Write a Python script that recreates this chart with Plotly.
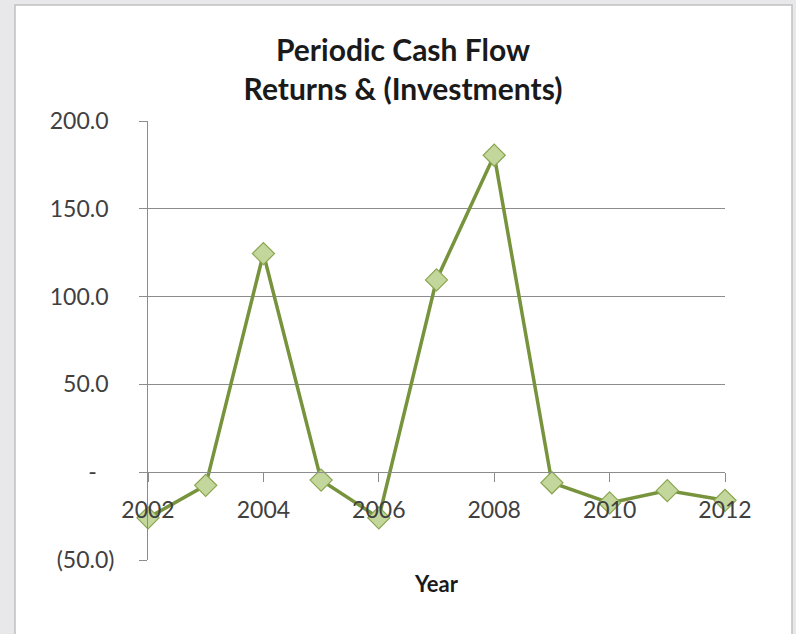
"""Periodic Cash Flow — Returns & (Investments), Excel 스타일 꺾은선 차트."""
import plotly.graph_objects as go

# 데이터
years = [2002, 2003, 2004, 2005, 2006, 2007, 2008, 2009, 2010, 2011, 2012]
cash_flow = [-26.0, -7.5, 124.5, -4.5, -26.0, 109.5, 180.5, -6.0, -17.5, -10.5, -16.0]

y_tickvals = [-50, 0, 50, 100, 150, 200]
y_ticktext = ["(50.0)", "-\u00a0\u00a0\u00a0", "50.0\u00a0", "100.0\u00a0", "150.0\u00a0", "200.0\u00a0"]
x_tickvals = [2002, 2004, 2006, 2008, 2010, 2012]

Y_MIN, Y_MAX = -50, 200

FONT = "Lato, 'Open Sans', sans-serif"
TXT = "#404040"
GRID = "#8c8c8c"
LINE = "#77933C"
FILL = "#C3D69B"
OUTER = "#e8e8ea"

W, H = 796, 634
L, R, T, B = 148, 71, 121, 74
pw, ph = W - L - R, H - T - B

fig = go.Figure(go.Scatter(
    x=years, y=cash_flow, mode="lines+markers",
    line=dict(color=LINE, width=3.5),
    marker=dict(symbol="diamond", size=17, color=FILL,
                line=dict(color="#8aa650", width=1.2)),
    cliponaxis=False, showlegend=False,
))

# 흰색 차트 영역 (바깥은 회색)
fig.add_shape(type="rect", xref="paper", yref="paper",
              x0=(15 - L) / pw, x1=(792 - L) / pw,
              y0=(T + ph - 650) / ph, y1=(T + ph - 5) / ph,
              fillcolor="white", line=dict(color="#c0c0c0", width=1.5), layer="below")

fig.update_xaxes(range=[years[0], years[-1]], tickvals=x_tickvals,
                 showgrid=False, showline=True, linecolor=GRID, linewidth=1,
                 ticks="outside", ticklen=9, tickcolor=GRID,
                 anchor="free", position=(0 - Y_MIN) / (Y_MAX - Y_MIN),
                 tickfont=dict(family=FONT, size=23, color=TXT),
                 ticklabelstandoff=8, zeroline=False)
fig.update_yaxes(range=[Y_MIN, Y_MAX], tickvals=y_tickvals, ticktext=y_ticktext,
                 showgrid=True, gridcolor=GRID, gridwidth=1,
                 showline=True, linecolor=GRID, linewidth=1,
                 ticks="outside", ticklen=8, tickcolor=GRID,
                 tickfont=dict(family=FONT, size=23, color=TXT),
                 ticklabelstandoff=20, zeroline=False)

fig.add_annotation(text="<b>Year</b>", xref="paper", yref="paper",
                   x=0.5, y=-(583 - (T + ph)) / ph, showarrow=False,
                   font=dict(family=FONT, size=22, color="#1a1a1a"),
                   xanchor="center", yanchor="middle")

fig.update_layout(
    width=W, height=H,
    margin=dict(l=L, r=R, t=T, b=B),
    paper_bgcolor=OUTER, plot_bgcolor="white",
    title=dict(text="<b>Periodic Cash Flow<br>Returns & (Investments)</b>",
               xref="container", yref="container",
               x=403 / W, y=1 - 61 / H, xanchor="center", yanchor="middle",
               font=dict(family=FONT, size=30, color="#1a1a1a")),
)

fig.write_html("out.html", config={"displayModeBar": False},
               post_script="document.body.style.margin='0';"
                           f"document.body.style.background='{OUTER}';")
